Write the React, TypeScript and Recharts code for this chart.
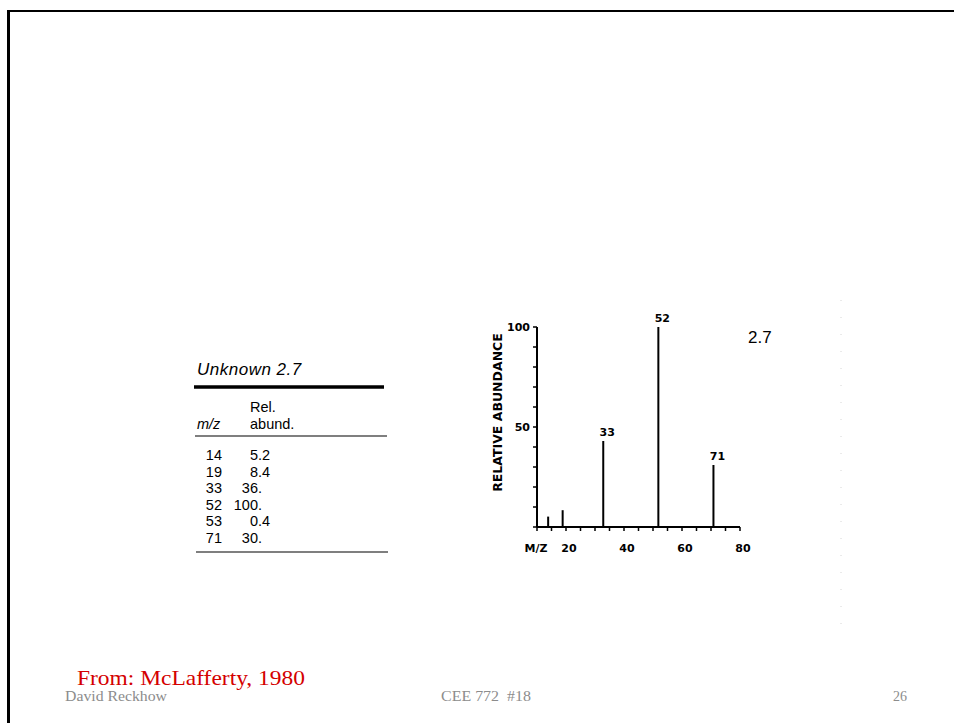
import { BarChart, Bar, XAxis, YAxis, LabelList } from "recharts"

// peaks
const mzValues = [14, 19, 33, 52, 53, 71]
const chartAbundance = [5.2, 8.4, 43, 100, 0.4, 31]
const labeledPeaks = [33, 52, 71]

const xTicks = [10, 15, 20, 25, 30, 35, 40, 45, 50, 55, 60, 65, 70, 75, 80]
const xTickLabels = ["M/Z", "", "20", "", "", "", "40", "", "", "", "60", "", "", "", "80"]
const yTicks = [0, 10, 20, 30, 40, 50, 60, 70, 80, 90, 100]
const yTickLabels = ["", "", "", "", "", "50", "", "", "", "", "100"]

// the printed table beside the spectrum
const tableMz = ["14", "19", "33", "52", "53", "71"]
const tableAbund = ["5.2", "8.4", "36.", "100.", "0.4", "30."]

const chartFont = "DejaVu Sans"
const sans = "Liberation Sans, Arial, sans-serif"
const serif = "Liberation Serif, Times New Roman, serif"

const renderXTick = (props: any) => {
  const { x, y, payload } = props
  const label = xTickLabels[xTicks.indexOf(payload.value)]
  if (!label) return <g />
  const dx = label === "M/Z" ? -1 : 3
  return (
    <text x={x + dx} y={y} dy="0.71em" textAnchor="middle" fontSize={11} fontWeight="bold" fontFamily={chartFont} fill="#000">
      {label}
    </text>
  )
}

const renderYTick = (props: any) => {
  const { x, y, payload } = props
  const label = yTickLabels[yTicks.indexOf(payload.value)]
  if (!label) return <g />
  return (
    <text x={x} y={y} dy="0.355em" textAnchor="end" fontSize={11} fontWeight="bold" fontFamily={chartFont} fill="#000">
      {label}
    </text>
  )
}

const renderYLabel = (props: any) => {
  const vb = props.viewBox || { x: 0, y: 32, width: 67, height: 200 }
  const cx = vb.x + vb.width - 40
  const cy = vb.y + vb.height / 2 - 14.5
  return (
    <text
      x={cx}
      y={cy}
      transform={`rotate(-90 ${cx} ${cy})`}
      textAnchor="middle"
      dominantBaseline="central"
      fontSize={12.5}
      fontWeight="bold"
      fontFamily={chartFont}
      fill="#000"
    >
      RELATIVE ABUNDANCE
    </text>
  )
}

const renderPeakLabel = (props: any) => {
  const { x, y, width, value } = props
  if (!value) return null
  return (
    <text x={x + width / 2 + 4} y={y - 5} textAnchor="middle" fontSize={11} fontWeight="bold" fontFamily={chartFont} fill="#000">
      {value}
    </text>
  )
}

function SlideText() {
  const rowY = (i: number) => 460 + i * 16.5
  return (
    <svg width={954} height={723} style={{ position: "absolute", left: 0, top: 0 }}>
      {/* table */}
      <text x={197} y={375} fontSize={17} fontStyle="italic" fontFamily={sans} letterSpacing={0.5}>
        Unknown 2.7
      </text>
      <line x1={194} y1={387} x2={384} y2={387} stroke="#000" strokeWidth={3.5} />
      <text x={250} y={412} fontSize={14.5} fontFamily={sans}>Rel.</text>
      <text x={250} y={429} fontSize={14.5} fontFamily={sans}>abund.</text>
      <text x={197} y={429} fontSize={14.5} fontStyle="italic" fontFamily={sans}>m/z</text>
      <line x1={195} y1={436} x2={387} y2={436} stroke="#000" strokeWidth={1.2} />
      {tableMz.map((mz, i) => {
        const a = tableAbund[i]
        const dot = a.indexOf(".")
        return (
          <g key={mz} fontSize={14.5} fontFamily={sans} fill="#000">
            <text x={222} y={rowY(i)} textAnchor="end">{mz}</text>
            <text x={258} y={rowY(i)} textAnchor="end">{a.slice(0, dot)}</text>
            <text x={258} y={rowY(i)}>{a.slice(dot)}</text>
          </g>
        )
      })}
      <line x1={196} y1={552} x2={388} y2={552} stroke="#000" strokeWidth={1.2} />

      {/* spectrum number */}
      <text x={748} y={343} fontSize={17} fontFamily={sans}>2.7</text>

      {/* faint scan edge */}
      <line x1={841} y1={300} x2={841} y2={640} stroke="#d6d6d6" strokeWidth={1} strokeDasharray="1 16" />

      {/* footer */}
      <text x={77} y={685} fontSize={22} fontFamily={serif} fill="#d40000" textLength={228} lengthAdjust="spacingAndGlyphs">
        From: McLafferty, 1980
      </text>
      <text x={65} y={701} fontSize={14} fontFamily={serif} fill="#8c8c8c" textLength={102} lengthAdjust="spacingAndGlyphs">
        David Reckhow
      </text>
      <text x={441} y={701} fontSize={14} fontFamily={serif} fill="#8c8c8c" textLength={90} lengthAdjust="spacingAndGlyphs" style={{ whiteSpace: "pre" }}>
        CEE 772  #18
      </text>
      <text x={893} y={701} fontSize={14} fontFamily={serif} fill="#8c8c8c">26</text>
    </svg>
  )
}

export default function App() {
  const data = mzValues.map((mz, i) => ({
    mz,
    abund: chartAbundance[i],
    peak: labeledPeaks.includes(mz) ? String(mz) : "",
  }))

  return (
    <div style={{ position: "absolute", left: 0, top: 0, width: 954, height: 723, background: "#fff", overflow: "hidden" }}>
      <div
        style={{
          position: "absolute",
          left: 7,
          top: 10,
          width: 960,
          height: 730,
          borderTop: "2px solid #000",
          borderLeft: "3px solid #000",
        }}
      />
      <SlideText />
      <div style={{ position: "absolute", left: 470, top: 295 }}>
        <BarChart width={300} height={270} data={data} margin={{ top: 32, right: 30, bottom: 3, left: 0 }}>
          <XAxis
            dataKey="mz"
            type="number"
            domain={[10, 80]}
            ticks={xTicks}
            interval={0}
            height={35}
            tickSize={4}
            tickMargin={13}
            axisLine={{ stroke: "#000", strokeWidth: 2 }}
            tickLine={{ stroke: "#000", strokeWidth: 1.5 }}
            tick={renderXTick}
          />
          <YAxis
            type="number"
            domain={[0, 100]}
            ticks={yTicks}
            interval={0}
            width={67}
            tickSize={4}
            tickMargin={3}
            axisLine={{ stroke: "#000", strokeWidth: 2 }}
            tickLine={{ stroke: "#000", strokeWidth: 1.5 }}
            tick={renderYTick}
            label={renderYLabel}
          />
          <Bar dataKey="abund" fill="#000" barSize={2} isAnimationActive={false}>
            <LabelList dataKey="peak" content={renderPeakLabel} />
          </Bar>
        </BarChart>
      </div>
    </div>
  )
}
